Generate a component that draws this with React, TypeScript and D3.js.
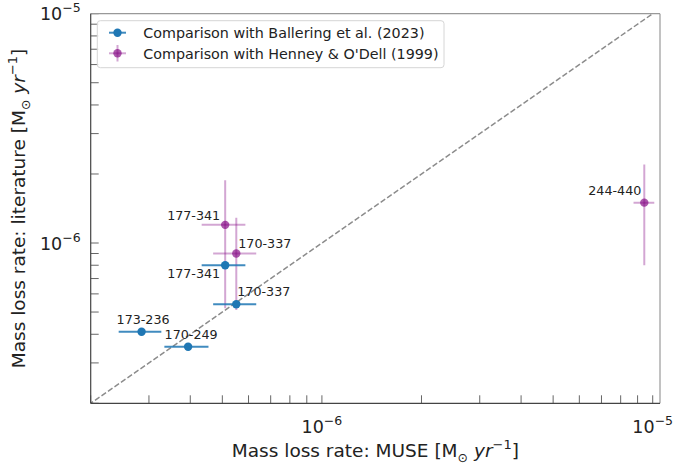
import React from "react";
import * as d3 from "d3";

// ---- data ----
const balleringNames = ["173-236", "170-249", "177-341", "170-337"];
const balleringMuse = [2.85e-7, 3.94e-7, 5.1e-7, 5.51e-7];
const balleringMuseErr = [0.42e-7, 0.6e-7, 0.77e-7, 0.82e-7];
const balleringLit = [4.1e-7, 3.53e-7, 8.0e-7, 5.41e-7];

const henneyNames = ["177-341", "170-337", "244-440"];
const henneyMuse = [5.1e-7, 5.51e-7, 9.43e-6];
const henneyMuseErr = [0.77e-7, 0.82e-7, 0.68e-6];
const henneyLit = [1.2e-6, 9.0e-7, 1.5e-6];
const henneyLitErr = [0.68e-6, 0.39e-6, 0.7e-6];

const legendLabels = [
  "Comparison with Ballering et al. (2023)",
  "Comparison with Henney & O'Dell (1999)",
];
const xDomain = [2e-7, 1.052e-5];
const yDomain = [2e-7, 1e-5];
const majorTicks = [1e-6, 1e-5];
const majorTickExp = ["−6", "−5"];

// label placement (style)
const balleringLabelPos = [
  { anchor: "middle", dx: 1.5, dy: -8 },
  { anchor: "middle", dx: 3, dy: -7.5 },
  { anchor: "end", dx: -5, dy: 12.5 },
  { anchor: "start", dx: 1, dy: -8 },
];
const henneyLabelPos = [
  { anchor: "end", dx: -5, dy: -5 },
  { anchor: "start", dx: 2, dy: -6 },
  { anchor: "end", dx: -3, dy: -7.5 },
];

const W = 675;
const H = 466;
const L = 90.7, R = 660, T = 13.7, B = 403.3;
const FONT = "DejaVu Sans, sans-serif";
const BLUE = "#1f77b4";
const PURPLE = "#800080";

export default function App() {
  const x = d3.scaleLog().domain(xDomain).range([L, R]);
  const y = d3.scaleLog().domain(yDomain).range([B, T]);

  const xTicks = x.ticks().filter((v) => v >= xDomain[0] * 0.999 && v <= xDomain[1]);
  const yTicks = y.ticks().filter((v) => v >= yDomain[0] * 0.999 && v <= yDomain[1] * 1.001);

  const diag = [1e-7, 2e-5];

  const unitLabel = (prefix: string) => (
    <>
      {prefix} [M<tspan dy={4.5} fontSize={12.5}>⊙</tspan>
      <tspan dy={-4.5}> </tspan>
      <tspan fontStyle="italic">yr</tspan>
      <tspan dy={-8} fontSize={13}>−1</tspan>
      <tspan dy={8}>]</tspan>
    </>
  );

  return (
    <svg width={W} height={H} style={{ position: "absolute", left: 0, top: 0 }} fontFamily={FONT}>
      <defs>
        <clipPath id="plotclip">
          <rect x={L} y={T} width={R - L} height={B - T} />
        </clipPath>
      </defs>
      <rect x={0} y={0} width={W} height={H} fill="white" />

      {/* diagonal 1:1 line */}
      <line
        x1={x(diag[0])}
        y1={y(diag[0])}
        x2={x(diag[1])}
        y2={y(diag[1])}
        stroke="#8c8c8c"
        strokeWidth={1.5}
        strokeDasharray="5.5,2.4"
        clipPath="url(#plotclip)"
      />

      {/* ticks (inward, left & bottom) */}
      {xTicks.map((v, i) => (
        <line key={"xt" + i} x1={x(v)} x2={x(v)} y1={B} y2={B - 8} stroke="#555" strokeWidth={0.9} />
      ))}
      {yTicks.map((v, i) => (
        <line key={"yt" + i} x1={L} x2={L + 8} y1={y(v)} y2={y(v)} stroke="#555" strokeWidth={0.9} />
      ))}

      <g clipPath="url(#plotclip)">
        {/* Henney error bars */}
        {henneyMuse.map((v, i) => (
          <g key={"he" + i} stroke={PURPLE} strokeOpacity={0.35} strokeWidth={2}>
            <line x1={x(v - henneyMuseErr[i])} x2={x(v + henneyMuseErr[i])} y1={y(henneyLit[i])} y2={y(henneyLit[i])} />
            <line x1={x(v)} x2={x(v)} y1={y(henneyLit[i] - henneyLitErr[i])} y2={y(henneyLit[i] + henneyLitErr[i])} />
          </g>
        ))}
        {/* Ballering error bars */}
        {balleringMuse.map((v, i) => (
          <line
            key={"be" + i}
            x1={x(v - balleringMuseErr[i])}
            x2={x(v + balleringMuseErr[i])}
            y1={y(balleringLit[i])}
            y2={y(balleringLit[i])}
            stroke={BLUE}
            strokeOpacity={0.85}
            strokeWidth={2}
          />
        ))}
        {balleringMuse.map((v, i) => (
          <circle key={"bm" + i} cx={x(v)} cy={y(balleringLit[i])} r={4.2} fill={BLUE} />
        ))}
        {henneyMuse.map((v, i) => (
          <circle key={"hm" + i} cx={x(v)} cy={y(henneyLit[i])} r={4.2} fill={PURPLE} fillOpacity={0.65} />
        ))}
      </g>

      {/* annotations */}
      {balleringNames.map((n, i) => (
        <text
          key={"bl" + i}
          x={x(balleringMuse[i]) + balleringLabelPos[i].dx}
          y={y(balleringLit[i]) + balleringLabelPos[i].dy}
          textAnchor={balleringLabelPos[i].anchor as any}
          fontSize={12.7}
          fill="#222"
        >
          {n}
        </text>
      ))}
      {henneyNames.map((n, i) => (
        <text
          key={"hl" + i}
          x={x(henneyMuse[i]) + henneyLabelPos[i].dx}
          y={y(henneyLit[i]) + henneyLabelPos[i].dy}
          textAnchor={henneyLabelPos[i].anchor as any}
          fontSize={12.7}
          fill="#222"
        >
          {n}
        </text>
      ))}

      {/* spines */}
      <line x1={L} x2={R} y1={T} y2={T} stroke="#999" strokeWidth={1.2} />
      <line x1={R} x2={R} y1={T} y2={B} stroke="#999" strokeWidth={1.2} />
      <line x1={L} x2={L} y1={T} y2={B} stroke="#444" strokeWidth={1.2} />
      <line x1={L} x2={R} y1={B} y2={B} stroke="#444" strokeWidth={1.2} />

      {/* major tick labels */}
      {majorTicks.map((v, i) => (
        <text key={"xl" + i} x={x(v)} y={B + 30} textAnchor="middle" fontSize={17.5} fill="#222">
          10<tspan dy={-8} fontSize={12.5}>{majorTickExp[i]}</tspan>
        </text>
      ))}
      {majorTicks.map((v, i) => (
        <text key={"yl" + i} x={L - 10} y={y(v) + 6.5} textAnchor="end" fontSize={17.5} fill="#222">
          10<tspan dy={-8} fontSize={12.5}>{majorTickExp[i]}</tspan>
        </text>
      ))}

      {/* axis labels */}
      <text x={(L + R) / 2} y={457} textAnchor="middle" fontSize={18.5} fill="#222">
        {unitLabel("Mass loss rate: MUSE")}
      </text>
      <text
        transform={`translate(25, ${(T + B) / 2}) rotate(-90)`}
        textAnchor="middle"
        fontSize={18.5}
        fill="#222"
      >
        {unitLabel("Mass loss rate: literature")}
      </text>

      {/* legend */}
      <g>
        <rect x={97.3} y={20.7} width={346.7} height={47} rx={3} fill="white" fillOpacity={0.85} stroke="#d6d6d6" />
        <line x1={109} x2={126} y1={32.7} y2={32.7} stroke={BLUE} strokeWidth={2} strokeOpacity={0.85} />
        <circle cx={117.5} cy={32.7} r={4.2} fill={BLUE} />
        <line x1={109} x2={126} y1={53.3} y2={53.3} stroke={PURPLE} strokeOpacity={0.35} strokeWidth={2} />
        <line x1={117.5} x2={117.5} y1={45} y2={61.5} stroke={PURPLE} strokeOpacity={0.35} strokeWidth={2} />
        <circle cx={117.5} cy={53.3} r={4.2} fill={PURPLE} fillOpacity={0.65} />
        {legendLabels.map((t, i) => (
          <text key={"lg" + i} x={143.3} y={38 + i * 20.6} fontSize={14.3} fill="#222">
            {t}
          </text>
        ))}
      </g>
    </svg>
  );
}
